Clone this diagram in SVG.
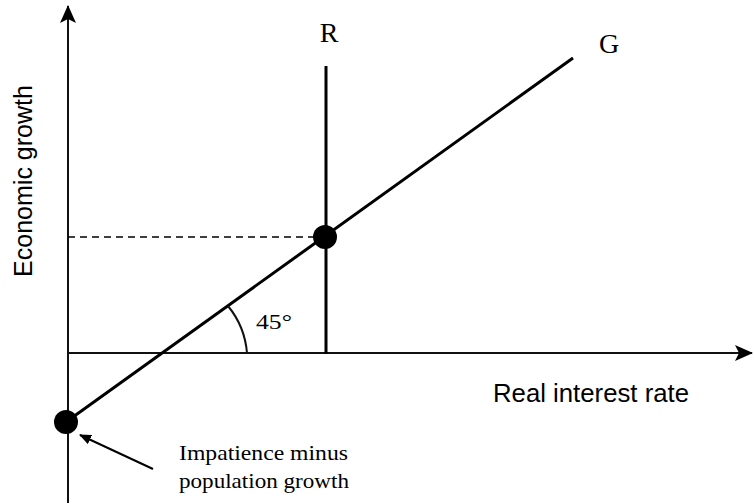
<svg xmlns="http://www.w3.org/2000/svg" width="754" height="504" viewBox="0 0 754 504">
<style>
.ax{stroke:#111;stroke-width:2;fill:none}
.thick{stroke:#000;stroke-width:3;fill:none}
.serif{font-family:"Liberation Serif",serif;fill:#000}
.sans{font-family:"Liberation Sans",Arial,sans-serif;fill:#000}
</style>
<defs>
<marker id="ah" markerWidth="12" markerHeight="10" refX="11" refY="5" orient="auto" markerUnits="userSpaceOnUse">
<path d="M0,0 L12,5 L0,10 Z" fill="#000"/>
</marker>
<marker id="ahBig" markerWidth="18" markerHeight="16" refX="17" refY="8" orient="auto" markerUnits="userSpaceOnUse">
<path d="M0,0 L18,8 L0,16 L4,8 Z" fill="#000"/>
</marker>
</defs>
<g id="connectors">
<line class="ax" x1="68" y1="503" x2="68" y2="6" marker-end="url(#ahBig)"/>
<line class="ax" x1="68" y1="353" x2="752" y2="353" marker-end="url(#ahBig)"/>
<line class="thick" x1="326" y1="66" x2="326" y2="354"/>
<line class="thick" x1="66" y1="422" x2="573" y2="58"/>
<line stroke="#000" stroke-width="1.3" stroke-dasharray="7,5" x1="68" y1="237" x2="315" y2="237"/>
<path class="ax" stroke-width="1.5" d="M247,353 A85,85 0 0 0 228,306"/>
<line stroke="#000" stroke-width="2" x1="153" y1="469" x2="80" y2="435" marker-end="url(#ah)"/>
</g>
<g id="node-eq"><circle cx="325" cy="237" r="12" fill="#000"/></g>
<g id="node-origin"><circle cx="66" cy="422" r="12" fill="#000"/></g>
<g id="labels">
<text class="serif" x="329" y="42" font-size="28" text-anchor="middle">R</text>
<text class="serif" x="609" y="53" font-size="28" text-anchor="middle">G</text>
<text class="serif" x="256" y="329" font-size="22" textLength="36" lengthAdjust="spacingAndGlyphs">45°</text>
<text class="sans" transform="translate(32,277) rotate(-90)" font-size="25" textLength="192" lengthAdjust="spacingAndGlyphs">Economic growth</text>
<text class="sans" x="493" y="402" font-size="25" textLength="196" lengthAdjust="spacingAndGlyphs">Real interest rate</text>
<text class="serif" x="179" y="460" font-size="21" textLength="169" lengthAdjust="spacingAndGlyphs">Impatience minus</text>
<text class="serif" x="179" y="488" font-size="21" textLength="170" lengthAdjust="spacingAndGlyphs">population growth</text>
</g>
</svg>
